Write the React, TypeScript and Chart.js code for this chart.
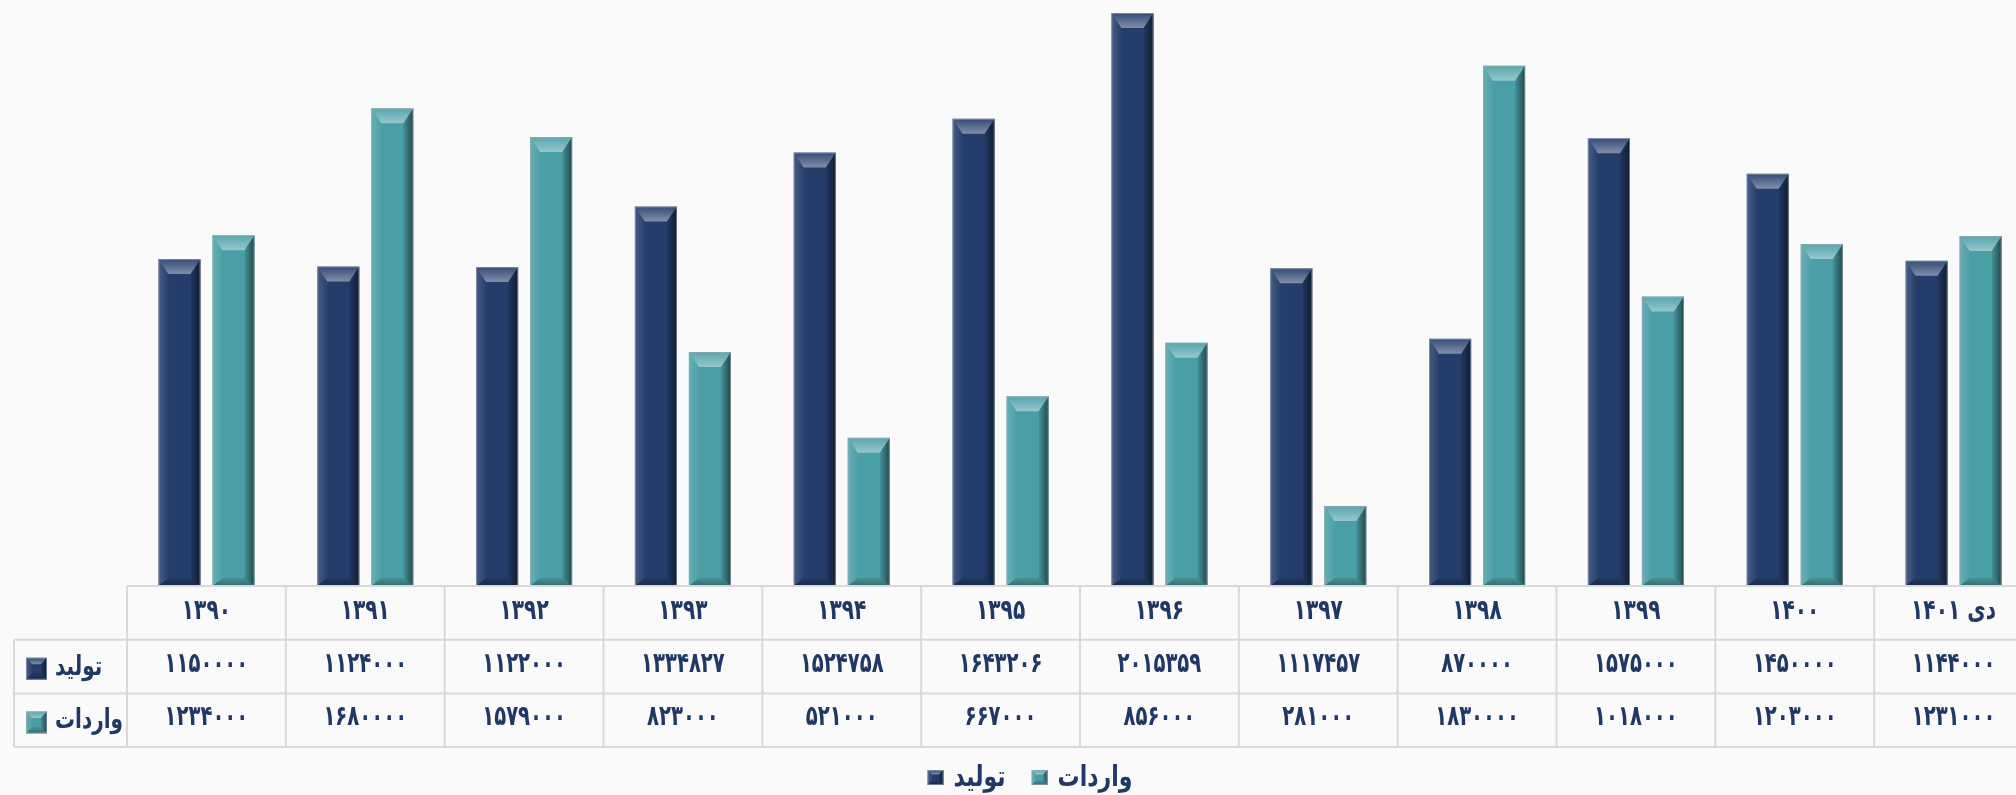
import React, { useEffect, useRef } from 'react';
import { Chart, registerables } from 'chart.js';

Chart.register(...registerables);

// ---------- data ----------
const categories = ['۱۳۹۰', '۱۳۹۱', '۱۳۹۲', '۱۳۹۳', '۱۳۹۴', '۱۳۹۵', '۱۳۹۶', '۱۳۹۷', '۱۳۹۸', '۱۳۹۹', '۱۴۰۰', 'دی ۱۴۰۱'];
const seriesNames = ['تولید', 'واردات'];
const production = [1150000, 1124000, 1122000, 1334827, 1524758, 1643206, 2015359, 1117457, 870000, 1575000, 1450000, 1144000];
const imports = [1234000, 1680000, 1579000, 823000, 521000, 667000, 856000, 281000, 1830000, 1018000, 1203000, 1231000];
const seriesColors = ['#243d6b', '#4a9fa6'];

const FONT = '"DejaVu Sans", sans-serif';
const TEXT_COLOR = '#1f3865';
const GRID_COLOR = '#d9d9d9';

const toFa = (n: number) => String(n).replace(/\d/g, (d) => '۰۱۲۳۴۵۶۷۸۹'[+d]);

function drawText(ctx: CanvasRenderingContext2D, text: string, x: number, y: number, size: number, sx: number, align: CanvasTextAlign) {
  ctx.save();
  ctx.font = `bold ${size}px ${FONT}`;
  ctx.textAlign = align;
  ctx.textBaseline = 'alphabetic';
  ctx.fillStyle = TEXT_COLOR;
  ctx.translate(x, y);
  ctx.scale(sx, 1);
  ctx.fillText(text, 0, 0);
  ctx.restore();
}

function textWidth(ctx: CanvasRenderingContext2D, text: string, size: number, sx: number) {
  ctx.save();
  ctx.font = `bold ${size}px ${FONT}`;
  const w = ctx.measureText(text).width * sx;
  ctx.restore();
  return w;
}

function bevel(ctx: CanvasRenderingContext2D, l: number, t: number, r: number, b: number, side: number, top: number, bottom: number) {
  const w = r - l;
  const h = b - t;
  side = Math.min(side, w / 3);
  top = Math.min(top, h / 2);
  bottom = Math.min(bottom, h / 3);
  ctx.save();
  // top facet
  let g = ctx.createLinearGradient(0, t, 0, t + top);
  g.addColorStop(0, 'rgba(255,255,255,0.08)');
  g.addColorStop(1, 'rgba(255,255,255,0.42)');
  ctx.fillStyle = g;
  ctx.beginPath();
  ctx.moveTo(l, t); ctx.lineTo(r, t); ctx.lineTo(r - side, t + top); ctx.lineTo(l + side, t + top); ctx.closePath();
  ctx.fill();
  // left facet
  g = ctx.createLinearGradient(l, 0, l + side, 0);
  g.addColorStop(0, 'rgba(255,255,255,0.16)');
  g.addColorStop(1, 'rgba(255,255,255,0.02)');
  ctx.fillStyle = g;
  ctx.beginPath();
  ctx.moveTo(l, t); ctx.lineTo(l + side, t + top); ctx.lineTo(l + side, b - bottom); ctx.lineTo(l, b); ctx.closePath();
  ctx.fill();
  // right facet
  g = ctx.createLinearGradient(r - side, 0, r, 0);
  g.addColorStop(0, 'rgba(0,0,0,0.08)');
  g.addColorStop(1, 'rgba(0,0,0,0.55)');
  ctx.fillStyle = g;
  ctx.beginPath();
  ctx.moveTo(r, t); ctx.lineTo(r - side, t + top); ctx.lineTo(r - side, b - bottom); ctx.lineTo(r, b); ctx.closePath();
  ctx.fill();
  // bottom facet
  g = ctx.createLinearGradient(0, b - bottom, 0, b);
  g.addColorStop(0, 'rgba(0,0,0,0.08)');
  g.addColorStop(1, 'rgba(0,0,0,0.32)');
  ctx.fillStyle = g;
  ctx.beginPath();
  ctx.moveTo(l, b); ctx.lineTo(l + side, b - bottom); ctx.lineTo(r - side, b - bottom); ctx.lineTo(r, b); ctx.closePath();
  ctx.fill();
  // thin outline
  ctx.strokeStyle = 'rgba(160,170,185,0.6)';
  ctx.lineWidth = 1;
  ctx.strokeRect(l + 0.5, t + 0.5, w - 1, h - 1);
  ctx.restore();
}

function keyBox(ctx: CanvasRenderingContext2D, x: number, y: number, w: number, h: number, color: string) {
  ctx.save();
  ctx.fillStyle = color;
  ctx.fillRect(x, y, w, h);
  bevel(ctx, x, y, x + w, y + h, w * 0.3, h * 0.3, h * 0.3);
  ctx.restore();
}

const backgroundPlugin = {
  id: 'bg',
  beforeDraw(chart: any) {
    const ctx = chart.ctx as CanvasRenderingContext2D;
    ctx.save();
    ctx.fillStyle = '#fafafa';
    ctx.fillRect(0, 0, chart.width, chart.height);
    ctx.restore();
  },
};

const bevelPlugin = {
  id: 'bevelBars',
  afterDatasetsDraw(chart: any) {
    const ctx = chart.ctx as CanvasRenderingContext2D;
    chart.data.datasets.forEach((_: any, di: number) => {
      const meta = chart.getDatasetMeta(di);
      meta.data.forEach((el: any) => {
        const p = el.getProps(['x', 'y', 'base', 'width'], true);
        const l = p.x - p.width / 2;
        const r = p.x + p.width / 2;
        bevel(ctx, l, p.y, r, p.base, 10, 15, 8);
      });
    });
  },
};

const tablePlugin = {
  id: 'dataTable',
  afterDraw(chart: any) {
    const ctx = chart.ctx as CanvasRenderingContext2D;
    const xs = chart.scales.x;
    const area = chart.chartArea;
    const colW = xs.getPixelForValue(1) - xs.getPixelForValue(0);
    const left = area.left;
    const right = xs.getPixelForValue(categories.length - 1) + colW / 2;
    const keyLeft = 14;
    const rowH = 53.7;
    const y0 = area.bottom;
    const y1 = y0 + rowH;
    const y2 = y1 + rowH;
    const y3 = y2 + rowH;

    ctx.save();
    ctx.strokeStyle = GRID_COLOR;
    ctx.lineWidth = 2;
    ctx.beginPath();
    ctx.moveTo(left, y0); ctx.lineTo(right, y0);
    ctx.moveTo(keyLeft, y1); ctx.lineTo(right, y1);
    ctx.moveTo(keyLeft, y2); ctx.lineTo(right, y2);
    ctx.moveTo(keyLeft, y3); ctx.lineTo(right, y3);
    ctx.moveTo(keyLeft, y1); ctx.lineTo(keyLeft, y3);
    for (let i = 0; i <= categories.length; i++) {
      const x = left + i * colW;
      ctx.moveTo(x, y0); ctx.lineTo(x, y3);
    }
    ctx.stroke();
    ctx.restore();

    const rows = [production, imports];
    categories.forEach((c, i) => {
      const cx = xs.getPixelForValue(i);
      drawText(ctx, c, cx, y0 + 33, 28, 0.72, 'center');
      rows.forEach((vals, ri) => {
        drawText(ctx, toFa(vals[i]), cx, y1 + rowH * ri + 32, 28, 0.7, 'center');
      });
    });

    // row keys
    seriesNames.forEach((name, ri) => {
      const top = y1 + rowH * ri;
      keyBox(ctx, 26, top + 18, 21, 22, seriesColors[ri]);
      drawText(ctx, name, 55, top + 35, 27, 0.74, 'left');
    });

    // bottom legend
    const size = 29;
    const sx = 0.76;
    const widths = seriesNames.map((n) => textWidth(ctx, n, size, sx));
    const boxW = 16;
    const gapBoxText = 10;
    const gapItems = 26;
    const total = widths.reduce((a, w) => a + boxW + gapBoxText + w, 0) + gapItems;
    let x = 1030 - total / 2;
    seriesNames.forEach((name, i) => {
      keyBox(ctx, x, 770, boxW, 15, seriesColors[i]);
      x += boxW + gapBoxText;
      drawText(ctx, name, x, 786, size, sx, 'left');
      x += widths[i] + gapItems;
    });
  },
};

export default function App() {
  const ref = useRef<HTMLCanvasElement>(null);
  useEffect(() => {
    const canvas = ref.current!;
    const chart = new Chart(canvas, {
      type: 'bar',
      data: {
        labels: categories,
        datasets: [
          { label: seriesNames[0], data: production, backgroundColor: seriesColors[0], categoryPercentage: 0.68, barPercentage: 0.78 },
          { label: seriesNames[1], data: imports, backgroundColor: seriesColors[1], categoryPercentage: 0.68, barPercentage: 0.78 },
        ],
      },
      options: {
        responsive: false,
        animation: false,
        layout: { padding: { left: 127, right: 7, top: 6, bottom: 209 } },
        scales: {
          x: { display: false },
          y: { display: false, min: 0, max: 2040000 },
        },
        plugins: { legend: { display: false }, tooltip: { enabled: false } },
      },
      plugins: [backgroundPlugin, bevelPlugin, tablePlugin],
    });
    return () => chart.destroy();
  }, []);

  return (
    <div style={{ position: 'fixed', left: 0, top: 0, width: 2016, height: 795, overflow: 'hidden', background: '#fafafa' }}>
      <canvas ref={ref} width={2040} height={795} style={{ width: 2040, height: 795, display: 'block' }} />
    </div>
  );
}
